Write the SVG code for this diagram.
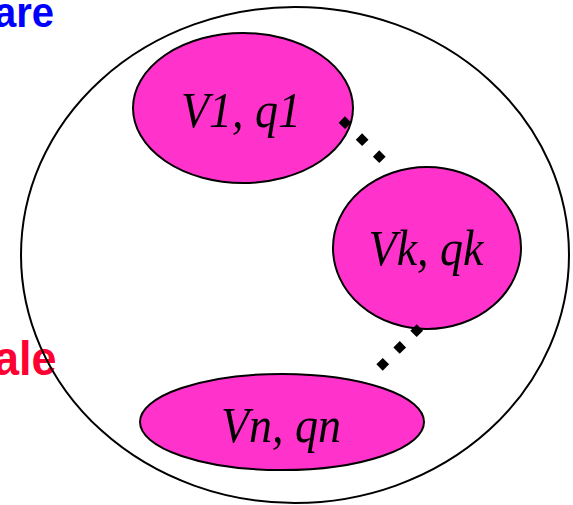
<svg xmlns="http://www.w3.org/2000/svg" width="573" height="505" viewBox="0 0 573 505">
<style>
.node{fill:#FF33CC;stroke:#000;stroke-width:2}
.lbl{font-family:"Liberation Serif","Times New Roman",serif;font-style:italic;font-size:46px;fill:#000;text-anchor:middle}
.side{font-family:"Liberation Sans",Arial,sans-serif;font-weight:bold}
.dots{fill:none;stroke:#000;stroke-width:9}
</style>
<rect width="573" height="505" fill="#fff"/>
<text class="side" font-size="40" fill="#0000FF" transform="translate(-6,27) scale(1,1.07)">are</text>
<text class="side" font-size="45" fill="#FF0033" transform="translate(-6,375) scale(1,1.07)">ale</text>
<g id="outer">
<ellipse cx="295" cy="255" rx="274" ry="248" fill="none" stroke="#000" stroke-width="2"/>
</g>
<g id="v1">
<ellipse class="node" cx="243" cy="108" rx="110" ry="75"/>
<text class="lbl" transform="translate(241,127) scale(1,1.1)">V1, q1</text>
</g>
<g id="vk">
<ellipse class="node" cx="427" cy="248" rx="94" ry="81"/>
<text class="lbl" transform="translate(426,265) scale(1,1.1)">Vk, qk</text>
</g>
<g id="vn">
<ellipse class="node" cx="282" cy="422" rx="142" ry="48"/>
<text class="lbl" transform="translate(281,442) scale(1,1.1)">Vn, qn</text>
</g>
<g id="connectors">
<line class="dots" x1="341.8" y1="119.5" x2="382.5" y2="159.9" stroke-dasharray="9 15.15"/>
<line class="dots" x1="419.9" y1="327.5" x2="379.5" y2="367.5" stroke-dasharray="9 14.9"/>
</g>
</svg>
